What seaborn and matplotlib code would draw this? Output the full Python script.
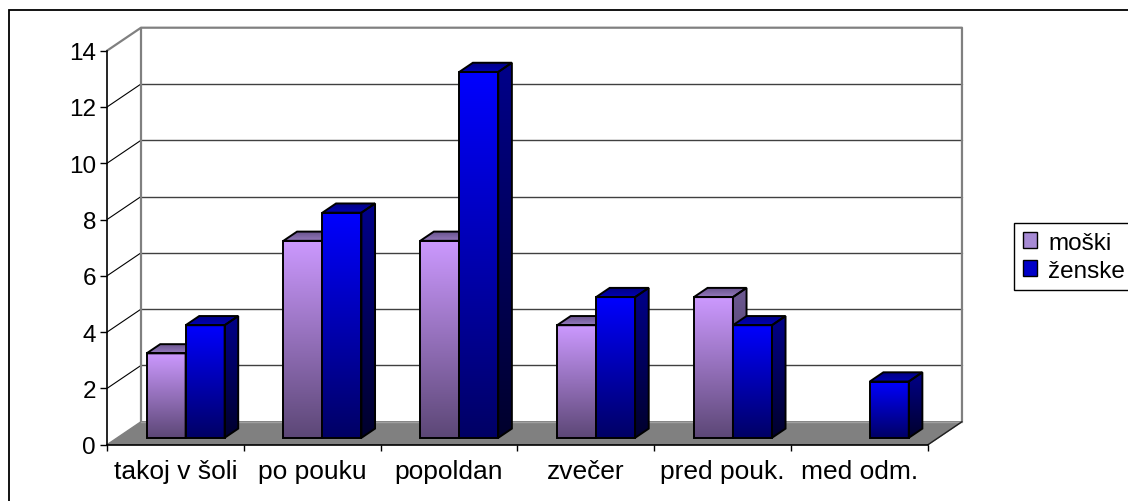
import numpy as np
import pandas as pd
import matplotlib
matplotlib.use("Agg")
import matplotlib.pyplot as plt
import seaborn as sns
from matplotlib.colors import LinearSegmentedColormap
from matplotlib.patches import Polygon, Rectangle, Patch
from matplotlib.transforms import Affine2D

# -------------------------
# Data
# -------------------------
kategorije = ["takoj v šoli", "po pouku", "popoldan", "zvečer", "pred pouk.", "med odm."]
moski = [3, 7, 7, 4, 5, np.nan]
zenske = [4, 8, 13, 5, 4, 2]
spoli = ["moški", "ženske"]
y_ticks = [0, 2, 4, 6, 8, 10, 12, 14]

df = pd.DataFrame({
    "kategorija": kategorije * 2,
    "spol": [spoli[0]] * len(kategorije) + [spoli[1]] * len(kategorije),
    "vrednost": moski + zenske,
})

# -------------------------
# 3D look (depth offset in data units)
# -------------------------
DX, DY = 0.2485, 0.817
D0, D1 = 0.3, 0.7
x_lo, x_hi = -0.5, len(kategorije) - 0.5
y_top = y_ticks[-1]


def proj(x, y, d):
    return (x + d * DX, y + d * DY)


front_cm = [LinearSegmentedColormap.from_list("fm", ["#5C4776", "#CC99FF"]),
            LinearSegmentedColormap.from_list("fz", ["#000064", "#0000FF"])]
side_cm = [LinearSegmentedColormap.from_list("sm", ["#382B4C", "#6E5A93"]),
           LinearSegmentedColormap.from_list("sz", ["#00002C", "#00008A"])]
top_cm = [LinearSegmentedColormap.from_list("tm", ["#9479BC", "#65508A"]),
          LinearSegmentedColormap.from_list("tz", ["#0000B4", "#000080"])]
legend_cols = ["#A68AD4", "#0000C8"]

grad = np.linspace(0, 1, 256).reshape(-1, 1)


def fill_grad(ax, clip, ext, cmap, z):
    im = ax.imshow(grad, extent=ext, origin="lower", aspect="auto",
                   cmap=cmap, zorder=z, interpolation="bilinear")
    im.set_clip_path(clip)


# -------------------------
# Figure
# -------------------------
sns.set_theme(style="white")
plt.rcParams["font.family"] = ["Liberation Sans", "DejaVu Sans"]
plt.rcParams["text.color"] = "black"

fig = plt.figure(figsize=(11.28, 5.02), dpi=100)
ax = fig.add_axes([107 / 1128, (502 - 445.7) / 502, 868 / 1128, 420.7 / 502])
ax.set_facecolor("none")

sns.barplot(data=df, x="kategorija", y="vrednost", hue="spol",
            order=kategorije, hue_order=spoli, width=0.57,
            errorbar=None, legend=False, ax=ax)

# floor
floor = Polygon([proj(x_lo, 0, 0), proj(x_hi, 0, 0), proj(x_hi, 0, 1), proj(x_lo, 0, 1)],
                closed=True, facecolor="#808080", edgecolor="#808080", lw=1, zorder=1)
ax.add_patch(floor)
ax.plot(*zip(proj(x_hi, 0, 0), proj(x_hi, 0, 1)), color="#202020", lw=1, zorder=1.5,
        clip_on=False)

# gridlines on left and back walls
for v in y_ticks[1:-1]:
    ax.plot(*zip(proj(x_lo, v, 0), proj(x_lo, v, 1)), color="black", lw=0.8, zorder=1)
    ax.plot(*zip(proj(x_lo, v, 1), proj(x_hi, v, 1)), color="#404040", lw=1.0, zorder=1)

wall_col = "#808080"
ax.plot(*zip(proj(x_lo, y_top, 0), proj(x_lo, y_top, 1), proj(x_hi, y_top, 1),
             proj(x_hi, 0, 1)), color=wall_col, lw=1.6, zorder=1, clip_on=False)
ax.plot(*zip(proj(x_lo, 0, 1), proj(x_lo, y_top, 1)), color=wall_col, lw=1.6, zorder=1)
ax.plot(*zip(proj(x_lo, 0, 1), proj(x_hi, 0, 1)), color="#a0a0a0", lw=1.0, zorder=1.2)

# -------------------------
# Bars: seaborn front faces + side / top faces
# -------------------------
bars = []
for hi, cont in enumerate(ax.containers):
    for bar in cont:
        h = bar.get_height()
        if np.isnan(h) or h <= 0:
            bar.set_visible(False)
            continue
        bars.append((bar.get_x(), hi, bar))
bars.sort(key=lambda t: t[0])

for k, (x, hi, bar) in enumerate(bars):
    w, h = bar.get_width(), bar.get_height()
    z = 3 + k
    # front
    bar.set_transform(Affine2D().translate(D0 * DX, D0 * DY) + ax.transData)
    bar.set_facecolor("none")
    bar.set_edgecolor("black")
    bar.set_linewidth(1.4)
    bar.set_zorder(z + 0.5)
    fx, fy = proj(x, 0, D0)
    fill_grad(ax, bar, (fx, fx + w, fy, fy + h), front_cm[hi], z)
    # side
    side_xy = [proj(x + w, 0, D0), proj(x + w, 0, D1), proj(x + w, h, D1), proj(x + w, h, D0)]
    side = Polygon(side_xy, closed=True, facecolor="none", edgecolor="black",
                   lw=1.4, zorder=z + 0.5, joinstyle="miter")
    ax.add_patch(side)
    sx, sy = zip(*side_xy)
    fill_grad(ax, side, (min(sx), max(sx), min(sy), max(sy)), side_cm[hi], z)
    # top
    top_xy = [proj(x, h, D0), proj(x + w, h, D0), proj(x + w, h, D1), proj(x, h, D1)]
    top = Polygon(top_xy, closed=True, facecolor="none", edgecolor="black",
                  lw=1.4, zorder=z + 0.5, joinstyle="miter")
    ax.add_patch(top)
    tx, ty = zip(*top_xy)
    fill_grad(ax, top, (min(tx), max(tx), min(ty), max(ty)), top_cm[hi], z)

# -------------------------
# Axes, ticks
# -------------------------
ax.set_xlim(x_lo, x_lo + 868 / 136.83)
ax.set_ylim(0, 420.7 / 28.143)

for s in ["top", "right"]:
    ax.spines[s].set_visible(False)
for s in ["left", "bottom"]:
    ax.spines[s].set_color("black")
    ax.spines[s].set_linewidth(1.2)
    ax.spines[s].set_zorder(2)
ax.spines["left"].set_bounds(0, y_top)
ax.spines["bottom"].set_bounds(x_lo, x_hi)

ax.set_yticks(y_ticks)
ax.set_yticklabels([str(v) for v in y_ticks])
ax.tick_params(axis="y", left=True, length=5, width=1, pad=3, labelsize=17.5,
               color="black", labelcolor="black")

ax.set_xticks(range(len(kategorije)))
ax.set_xticklabels(kategorije)
ax.set_xticks(np.arange(x_lo, x_hi + 0.01, 1), minor=True)
ax.tick_params(axis="x", which="major", bottom=True, length=0, pad=10.5, labelsize=19,
               labelcolor="black")
ax.tick_params(axis="x", which="minor", bottom=True, length=4.5, width=1, color="black")
ax.set_xlabel("")
ax.set_ylabel("")

# -------------------------
# Legend and outer border
# -------------------------
handles = [Patch(facecolor=c, edgecolor="black", lw=1) for c in legend_cols]
leg = fig.legend(handles, spoli, loc="upper left",
                 bbox_to_anchor=(1014 / 1128, 1 - 224 / 502), bbox_transform=fig.transFigure,
                 frameon=True, fancybox=False, framealpha=1, edgecolor="black",
                 fontsize=17.5, handlelength=0.6, handleheight=0.6, handletextpad=0.45,
                 borderpad=0.35, labelspacing=0.25, borderaxespad=0)
leg.get_frame().set_linewidth(1.0)
for t in leg.get_texts():
    t.set_color("black")

fig.add_artist(Rectangle((9 / 1128, -0.1), 1.2, 1 - 11 / 502 + 0.1,
                         transform=fig.transFigure, fill=False, edgecolor="black", lw=1.3))

fig.savefig("out.png", dpi=100)
